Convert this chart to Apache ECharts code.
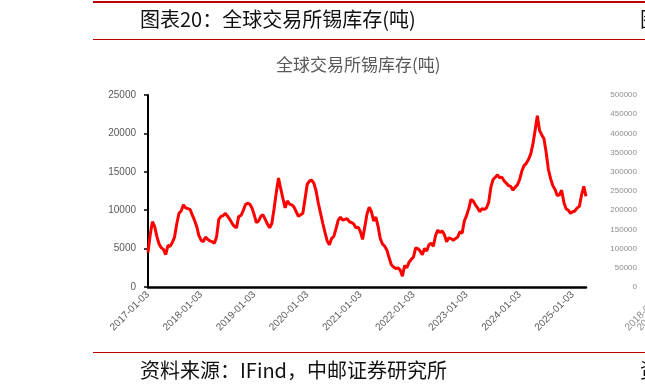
<!DOCTYPE html>
<html>
<head>
<meta charset="utf-8">
<script src="https://cdn.jsdelivr.net/npm/echarts@6/dist/echarts.min.js"></script>
<style>
  html, body { margin: 0; padding: 0; background: #fff; }
  #main { width: 645px; height: 392px; }
</style>
</head>
<body>
<div id="main"></div>
<script>
// 全球交易所锡库存(吨)，半月一个点（每月03日、18日）
const v2017 = [4500, 6800, 8500, 7900, 6600, 5600, 5100, 4900, 4200, 5400, 5300, 5800,
  6500, 8200, 9600, 9900, 10700, 10300, 10200, 10100, 9400, 8700, 7900, 6700];
const v2018 = [6100, 5900, 6500, 6200, 6000, 5900, 5700, 6500, 8800, 9200, 9300, 9600,
  9200, 8800, 8300, 7900, 7700, 9200, 9300, 9900, 10700, 10900, 10800, 10300];
const v2019 = [9400, 8400, 8600, 9200, 9400, 8800, 8200, 7700, 8300, 10200, 12300, 14200,
  12800, 11500, 10300, 11200, 10800, 10700, 10400, 9800, 9200, 9400, 9600, 11500];
const v2020 = [13400, 13800, 13900, 13500, 12500, 10900, 9600, 8300, 7100, 6000, 5500, 6300,
  6600, 7600, 8700, 9100, 8700, 8800, 8900, 8500, 8400, 8200, 7700, 7800];
const v2021 = [7200, 6200, 7800, 9500, 10400, 9800, 8600, 9100, 7900, 6300, 5600, 5300,
  4800, 3800, 2900, 2600, 2400, 2500, 2200, 1400, 2800, 2500, 3200, 3600];
const v2022 = [3900, 5100, 5000, 4700, 4200, 5000, 4700, 5500, 5700, 5300, 6700, 7400,
  7100, 7300, 6800, 5900, 6400, 6300, 6100, 6300, 6500, 7200, 7000, 8600];
const v2023 = [9300, 10200, 11400, 11200, 10700, 10300, 9800, 10200, 10100, 10300, 11000, 13000,
  14000, 14300, 14600, 14200, 14300, 13800, 13500, 13200, 13100, 12600, 13000, 13300];
const v2024 = [14000, 15100, 15800, 16100, 16600, 17300, 18600, 20400, 22300, 20400, 19800, 19300,
  17500, 15300, 14100, 13200, 12700, 11900, 12000, 12600, 11000, 10200, 10000, 9600];
const v2025 = [9800, 9900, 10300, 10500, 12000, 13100, 11800];

const yTicks = [0, 5000, 10000, 15000, 20000, 25000];
const rightTicks = [0, 50000, 100000, 150000, 200000, 250000, 300000, 350000, 400000, 450000, 500000];

const values = [].concat(v2017, v2018, v2019, v2020, v2021, v2022, v2023, v2024, v2025);

// 日期轴：每月03、18日
const dates = [];
for (let y = 2017; dates.length < values.length; y++) {
  for (let m = 1; m <= 12 && dates.length < values.length; m++) {
    const mm = m < 10 ? "0" + m : "" + m;
    dates.push(y + "-" + mm + "-03");
    if (dates.length < values.length) dates.push(y + "-" + mm + "-18");
  }
}

const red = "#c00000";
const cjk = "'Noto Sans CJK SC', sans-serif";
const latin = "'Liberation Sans', sans-serif";
const plain = (v) => String(v);

const option = {
  animation: false,
  backgroundColor: "#fff",
  title: {
    text: "全球交易所锡库存(吨)",
    left: 271,
    top: 51,
    textStyle: { color: "#595959", fontSize: 17, fontWeight: "normal", fontFamily: cjk },
  },
  grid: [
    { left: 148, right: 59, top: 95, bottom: 105 },
    // 右侧被截断的下一张图
    { left: 651, right: -400, top: 95, bottom: 105 },
  ],
  xAxis: [
    {
      type: "category",
      data: dates,
      boundaryGap: false,
      axisLine: { lineStyle: { color: "#000", width: 2.5 } },
      axisTick: { show: false },
      axisLabel: { interval: 23, rotate: 45, margin: 6, color: "#595959", fontSize: 10, fontFamily: latin },
      splitLine: { show: false },
    },
    {
      gridIndex: 1,
      type: "category",
      data: dates,
      boundaryGap: false,
      axisLine: { lineStyle: { color: "#000", width: 2.5 } },
      axisTick: { show: false },
      axisLabel: { interval: 23, rotate: 45, margin: 6, color: "#8c8c8c", fontSize: 10, fontFamily: latin },
    },
  ],
  yAxis: [
    {
      type: "value",
      min: yTicks[0],
      max: yTicks[yTicks.length - 1],
      interval: yTicks[1] - yTicks[0],
      axisLine: { show: true, lineStyle: { color: "#000", width: 2 } },
      axisTick: { show: true, length: 4, lineStyle: { color: "#000", width: 1.5 } },
      axisLabel: { margin: 12, color: "#595959", fontSize: 10, fontFamily: latin, formatter: plain },
      splitLine: { show: false },
    },
    {
      gridIndex: 1,
      type: "value",
      min: rightTicks[0],
      max: rightTicks[rightTicks.length - 1],
      interval: rightTicks[1] - rightTicks[0],
      axisLine: { show: false },
      axisTick: { show: false },
      axisLabel: { margin: 14, color: "#8c8c8c", fontSize: 8, fontFamily: latin, formatter: plain },
      splitLine: { show: false },
    },
  ],
  series: [
    {
      type: "line",
      data: values,
      showSymbol: false,
      lineStyle: { color: "#ff0000", width: 3 },
      itemStyle: { color: "#ff0000" },
    },
  ],
  graphic: [
    { type: "line", shape: { x1: 93, y1: 2, x2: 645, y2: 2 }, style: { stroke: red, lineWidth: 2 } },
    { type: "line", shape: { x1: 93, y1: 39.5, x2: 645, y2: 39.5 }, style: { stroke: red, lineWidth: 1.2 } },
    { type: "line", shape: { x1: 93, y1: 352.5, x2: 645, y2: 352.5 }, style: { stroke: red, lineWidth: 1.2 } },
    {
      type: "text",
      left: 140,
      top: 9,
      style: { text: "图表20：全球交易所锡库存(吨)", fill: "#111", font: "20px " + cjk },
    },
    {
      type: "text",
      left: 140,
      top: 360,
      style: { text: "资料来源：IFind，中邮证券研究所", fill: "#111", font: "20px " + cjk },
    },
    { type: "text", x: 640, y: 9, style: { text: "图", fill: "#111", font: "20px " + cjk } },
    { type: "text", x: 640, y: 360, style: { text: "资", fill: "#111", font: "20px " + cjk } },
  ],
};

const chart = echarts.init(document.getElementById("main"), null, { renderer: "canvas" });
chart.setOption(option);
</script>
</body>
</html>
